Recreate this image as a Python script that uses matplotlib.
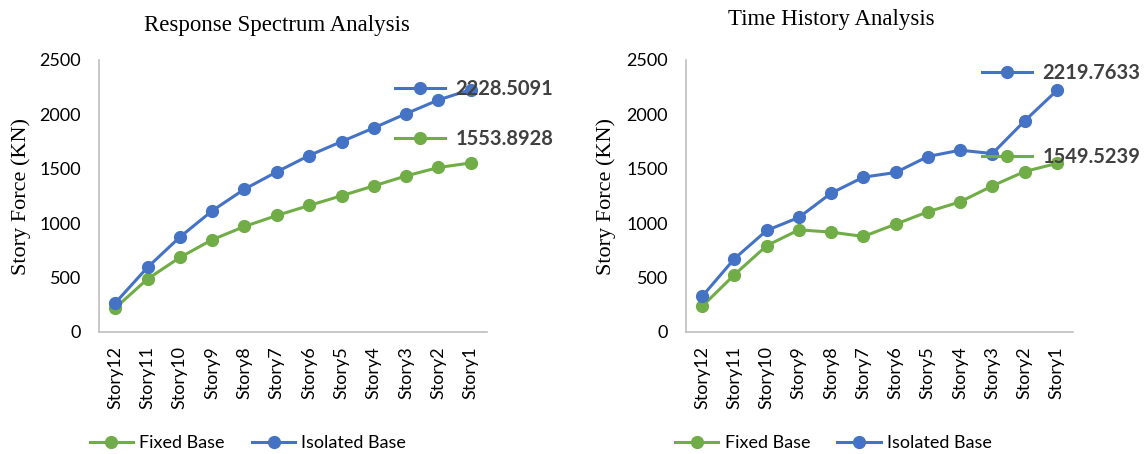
import matplotlib
matplotlib.use("Agg")
import matplotlib.pyplot as plt
from matplotlib.lines import Line2D
from matplotlib.legend import Legend

stories = ["Story12", "Story11", "Story10", "Story9", "Story8", "Story7",
           "Story6", "Story5", "Story4", "Story3", "Story2", "Story1"]

rsa_fixed = [220, 487, 685, 848, 970, 1071, 1163, 1252, 1343, 1435, 1512, 1553.8928]
rsa_isolated = [266, 594, 872, 1114, 1313, 1472, 1622, 1750, 1876, 2007, 2133, 2228.5091]

tha_fixed = [236, 526, 793, 939, 918, 878, 991, 1105, 1196, 1343, 1475, 1549.5239]
tha_isolated = [327, 673, 933, 1053, 1276, 1423, 1466, 1613, 1671, 1640, 1940, 2219.7633]

titles = ["Response Spectrum Analysis", "Time History Analysis"]
series_names = ["Fixed Base", "Isolated Base"]
yticks = [0, 500, 1000, 1500, 2000, 2500]

GREEN = "#70AD47"
BLUE = "#4472C4"
SANS = ["Lato", "DejaVu Sans"]
SERIF = ["Liberation Serif", "DejaVu Serif"]

fig = plt.figure(figsize=(11.46, 4.54), dpi=100)
W, H = 1146, 454

panels = [
    dict(x0=99, x1=487, fixed=rsa_fixed, iso=rsa_isolated, title=titles[0],
         title_x=277, title_y=25, ylab_x=21,
         iso_lab=(0.763, 0.893), fix_lab=(0.763, 0.71), leg_x=0.384),
    dict(x0=686, x1=1073, fixed=tha_fixed, iso=tha_isolated, title=titles[1],
         title_x=831, title_y=20, ylab_x=606,
         iso_lab=(0.765, 0.952), fix_lab=(0.765, 0.643), leg_x=0.381),
]

y_top, y_bot = 60, 332
for p in panels:
    ax = fig.add_axes([p["x0"] / W, 1 - y_bot / H, (p["x1"] - p["x0"]) / W, (y_bot - y_top) / H])
    x = list(range(len(stories)))
    lf, = ax.plot(x, p["fixed"], color=GREEN, lw=2.2, marker="o", ms=8.5, zorder=3)
    li, = ax.plot(x, p["iso"], color=BLUE, lw=2.2, marker="o", ms=8.5, zorder=3)
    ax.set_xlim(-0.5, len(stories) - 0.5)
    ax.set_ylim(0, 2500)
    ax.set_yticks(yticks)
    ax.set_xticks(x)
    ax.set_xticklabels(stories, rotation=90, fontsize=13, family=SANS, color="#000000")
    for lab in ax.get_yticklabels():
        lab.set_family(SANS)
        lab.set_fontsize(13)
    ax.tick_params(axis="both", length=0)
    ax.tick_params(axis="y", pad=13)
    ax.tick_params(axis="x", pad=10)
    for s in ["top", "right"]:
        ax.spines[s].set_visible(False)
    for s in ["left", "bottom"]:
        ax.spines[s].set_color("#BFBFBF")
        ax.spines[s].set_linewidth(1.2)
    fig.text(p["title_x"] / W, 1 - p["title_y"] / H, p["title"], ha="center", va="center",
             fontsize=16.5, family=SERIF)
    fig.text(p["ylab_x"] / W, 1 - 197 / H, "Story Force (KN)", rotation=90, ha="center",
             va="center", fontsize=16, family=SERIF)

    # data labels with legend key
    for line, vals, pos in [(li, p["iso"], p["iso_lab"]), (lf, p["fixed"], p["fix_lab"])]:
        h = Line2D([], [], color=line.get_color(), lw=2.2, marker="o", ms=8.5)
        lg = Legend(ax, [h], [f"{vals[-1]:.4f}"], loc="center left", bbox_to_anchor=pos,
                    frameon=False, borderpad=0, borderaxespad=0, handlelength=2.5,
                    handletextpad=0.5, prop=dict(family=SANS, weight="bold", size=14.5))
        for t in lg.get_texts():
            t.set_color("#404040")
        lg.set_zorder(5)
        ax.add_artist(lg)

    leg = ax.legend([lf, li], series_names, loc="center", bbox_to_anchor=(p["leg_x"], -0.408),
                    ncol=2, frameon=False, handlelength=2.4, handletextpad=0.35,
                    columnspacing=1.5, prop=dict(family=SANS, size=13), borderaxespad=0)

fig.savefig("out.png", dpi=100)
